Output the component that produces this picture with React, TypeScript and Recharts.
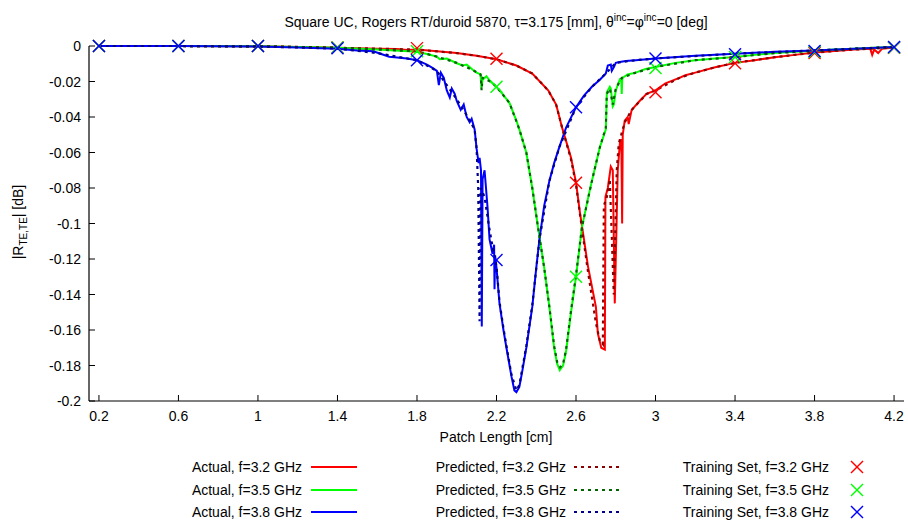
import React from 'react';
import { ComposedChart, Line, Scatter, XAxis, YAxis } from 'recharts';

const FONT = "'Liberation Sans', Arial, Helvetica, sans-serif";

// ---- axis ticks ----
const xTicks = [0.2, 0.6, 1, 1.4, 1.8, 2.2, 2.6, 3, 3.4, 3.8, 4.2];
const yTicks = [0, -0.02, -0.04, -0.06, -0.08, -0.1, -0.12, -0.14, -0.16, -0.18, -0.2];
const xDomain = [0.15, 4.25];
const yDomain = [-0.2, 0];

// ---- series names / colours ----
const freqs = ['3.2', '3.5', '3.8'];
const actualColors = ['#ff0000', '#00ff00', '#0000ff'];
const predictedColors = ['#8b0000', '#006400', '#00008b'];

// ---- Actual, f=3.2 GHz ----
const actual32 = [
  [0.2, 0], [0.6, 0], [1.0, -0.0002], [1.2, -0.0005], [1.4, -0.001], [1.6, -0.0015], [1.7, -0.0017],
  [1.75, -0.0022], [1.8, -0.002], [1.9, -0.003], [2.0, -0.004], [2.1, -0.0055], [2.2, -0.0075],
  [2.3, -0.011], [2.38, -0.0155], [2.46, -0.025], [2.5, -0.033], [2.53, -0.046], [2.575, -0.063],
  [2.6, -0.077], [2.62, -0.094], [2.64, -0.109], [2.66, -0.124], [2.7, -0.147], [2.71, -0.162],
  [2.727, -0.17], [2.745, -0.171], [2.748, -0.085], [2.76, -0.08], [2.775, -0.068], [2.785, -0.07],
  [2.795, -0.145], [2.8, -0.12], [2.81, -0.07], [2.822, -0.053], [2.828, -0.053], [2.832, -0.1],
  [2.835, -0.05], [2.845, -0.042], [2.86, -0.04], [2.865, -0.044], [2.88, -0.036], [2.92, -0.031],
  [2.955, -0.027], [3.0, -0.025], [3.05, -0.021], [3.12, -0.018], [3.15, -0.0165], [3.2, -0.015],
  [3.3, -0.012], [3.4, -0.0095], [3.5, -0.008], [3.6, -0.0063], [3.7, -0.005], [3.8, -0.0037],
  [3.9, -0.0028], [4.0, -0.002], [4.08, -0.0015], [4.09, -0.005], [4.1, -0.002], [4.12, -0.004],
  [4.14, -0.0015], [4.2, -0.0008],
];

// ---- Actual, f=3.5 GHz ----
const actual35 = [
  [0.2, 0], [0.6, 0], [1.0, -0.0002], [1.2, -0.0006], [1.4, -0.001], [1.6, -0.002], [1.8, -0.0032],
  [1.85, -0.0045], [1.9, -0.006], [1.915, -0.0075], [1.95, -0.007], [2.0, -0.0097], [2.03, -0.011],
  [2.05, -0.0105], [2.082, -0.0135], [2.1, -0.015], [2.12, -0.016], [2.124, -0.0235], [2.13, -0.019],
  [2.149, -0.017], [2.17, -0.02], [2.2, -0.023], [2.23, -0.027], [2.265, -0.032], [2.3, -0.042],
  [2.315, -0.047], [2.35, -0.06], [2.38, -0.08], [2.41, -0.103], [2.44, -0.125], [2.466, -0.147],
  [2.49, -0.17], [2.505, -0.179], [2.518, -0.1826], [2.535, -0.18], [2.55, -0.172], [2.575, -0.15],
  [2.6, -0.13], [2.63, -0.102], [2.66, -0.086], [2.68, -0.076], [2.72, -0.057], [2.75, -0.047],
  [2.755, -0.026], [2.77, -0.023], [2.775, -0.024], [2.785, -0.034], [2.79, -0.033], [2.8, -0.025],
  [2.82, -0.019], [2.828, -0.02], [2.83, -0.027], [2.833, -0.018], [2.86, -0.016], [2.9, -0.015],
  [2.95, -0.013], [3.0, -0.0118], [3.1, -0.0095], [3.2, -0.008], [3.3, -0.007], [3.4, -0.0062],
  [3.5, -0.005], [3.6, -0.004], [3.7, -0.0033], [3.8, -0.0027], [3.9, -0.002], [4.0, -0.0015],
  [4.1, -0.001], [4.2, -0.0006],
];

// ---- Actual, f=3.8 GHz ----
const actual38 = [
  [0.2, 0], [0.6, 0], [1.0, -0.0003], [1.2, -0.0008], [1.4, -0.0015], [1.5, -0.0025], [1.58, -0.003],
  [1.62, -0.0045], [1.66, -0.006], [1.7, -0.0065], [1.75, -0.007], [1.8, -0.008], [1.85, -0.0105],
  [1.88, -0.0125], [1.9, -0.014], [1.91, -0.022], [1.92, -0.015], [1.935, -0.018], [1.95, -0.025],
  [1.965, -0.029], [1.975, -0.024], [1.99, -0.027], [2.0, -0.031], [2.02, -0.036], [2.035, -0.033],
  [2.05, -0.04], [2.065, -0.043], [2.075, -0.041], [2.09, -0.047], [2.1, -0.058], [2.11, -0.066],
  [2.115, -0.063], [2.122, -0.07], [2.126, -0.158], [2.13, -0.075], [2.14, -0.07], [2.155, -0.091],
  [2.165, -0.109], [2.18, -0.117], [2.188, -0.112], [2.19, -0.137], [2.193, -0.118], [2.2, -0.125],
  [2.215, -0.145], [2.235, -0.16], [2.25, -0.17], [2.275, -0.186], [2.29, -0.194], [2.3, -0.195],
  [2.315, -0.192], [2.33, -0.183], [2.35, -0.17], [2.38, -0.147], [2.4, -0.125], [2.416, -0.109],
  [2.44, -0.09], [2.466, -0.076], [2.49, -0.066], [2.516, -0.057], [2.55, -0.046], [2.6, -0.0345],
  [2.64, -0.028], [2.68, -0.023], [2.72, -0.019], [2.75, -0.0155], [2.76, -0.011], [2.775, -0.0105],
  [2.78, -0.014], [2.79, -0.012], [2.8, -0.0095], [2.82, -0.009], [2.85, -0.0085], [2.9, -0.008],
  [3.0, -0.007], [3.2, -0.0055], [3.4, -0.0043], [3.6, -0.0033], [3.8, -0.0025], [4.0, -0.0015],
  [4.2, -0.0006],
];

// ---- Predicted ----
const predicted32 = [
  [0.2, 0], [0.6, 0], [1.0, -0.0002], [1.2, -0.0005], [1.4, -0.001], [1.6, -0.0015], [1.8, -0.002],
  [2.0, -0.004], [2.1, -0.0055], [2.2, -0.0075], [2.3, -0.011], [2.38, -0.0155], [2.46, -0.025],
  [2.5, -0.033], [2.53, -0.046], [2.575, -0.064], [2.6, -0.078], [2.62, -0.095], [2.66, -0.127],
  [2.7, -0.156], [2.72, -0.166], [2.735, -0.168], [2.74, -0.09], [2.755, -0.085], [2.77, -0.075],
  [2.79, -0.14], [2.805, -0.07], [2.815, -0.055], [2.845, -0.043], [2.88, -0.036], [2.955, -0.027],
  [3.0, -0.025], [3.12, -0.018], [3.2, -0.015], [3.3, -0.012], [3.4, -0.0095], [3.6, -0.0063],
  [3.8, -0.0037], [4.0, -0.002], [4.2, -0.0008],
];
const predicted35 = [
  [0.2, 0], [0.6, 0], [1.0, -0.0002], [1.2, -0.0006], [1.4, -0.001], [1.6, -0.002], [1.8, -0.003],
  [1.9, -0.006], [2.0, -0.0095], [2.08, -0.0135], [2.12, -0.016], [2.125, -0.025], [2.13, -0.018],
  [2.17, -0.02], [2.2, -0.023], [2.265, -0.032], [2.315, -0.047], [2.35, -0.06], [2.38, -0.08],
  [2.41, -0.103], [2.44, -0.125], [2.466, -0.147], [2.49, -0.169], [2.505, -0.178], [2.52, -0.181],
  [2.535, -0.179], [2.55, -0.171], [2.575, -0.149], [2.6, -0.129], [2.63, -0.102], [2.68, -0.076],
  [2.72, -0.057], [2.75, -0.046], [2.755, -0.027], [2.77, -0.024], [2.785, -0.033], [2.8, -0.024],
  [2.83, -0.018], [2.9, -0.015], [3.0, -0.0118], [3.2, -0.008], [3.4, -0.0062], [3.6, -0.004],
  [3.8, -0.0027], [4.0, -0.0015], [4.2, -0.0006],
];
const predicted38 = [
  [0.2, 0], [0.6, 0], [1.0, -0.0003], [1.2, -0.0008], [1.4, -0.0015], [1.6, -0.004], [1.8, -0.008],
  [1.9, -0.014], [1.95, -0.022], [2.0, -0.03], [2.05, -0.039], [2.09, -0.047], [2.1, -0.058],
  [2.108, -0.08], [2.115, -0.155], [2.12, -0.08], [2.14, -0.085], [2.16, -0.1], [2.175, -0.11],
  [2.2, -0.124], [2.215, -0.144], [2.235, -0.159], [2.25, -0.169], [2.275, -0.185], [2.3, -0.194],
  [2.315, -0.191], [2.35, -0.169], [2.38, -0.146], [2.416, -0.109], [2.466, -0.076], [2.516, -0.057],
  [2.6, -0.0345], [2.68, -0.023], [2.75, -0.0155], [2.8, -0.0095], [2.9, -0.008], [3.0, -0.007],
  [3.4, -0.0043], [3.8, -0.0025], [4.2, -0.0006],
];

// ---- Training Set ----
const trainingX = [0.2, 0.6, 1.0, 1.4, 1.8, 2.2, 2.6, 3.0, 3.4, 3.8, 4.2];
const training32 = [0, 0, 0, -0.0008, -0.0012, -0.0072, -0.077, -0.026, -0.0097, -0.004, -0.001];
const training35 = [0, 0, 0, -0.0008, -0.003, -0.023, -0.13, -0.0124, -0.0062, -0.0033, -0.0008];
const training38 = [0, 0, 0, -0.0013, -0.008, -0.1206, -0.0345, -0.007, -0.0047, -0.0028, -0.0006];

const toPts = (arr: number[][]) => arr.map(([x, y]) => ({ x, y }));
const toTrain = (ys: number[]) => ys.map((y, i) => ({ x: trainingX[i], y }));

const actualSeries = [actual32, actual35, actual38].map(toPts);
const predictedSeries = [predicted32, predicted35, predicted38].map(toPts);
const trainingSeries = [training32, training35, training38].map(toTrain);

const fmt = (v: number) => String(Number(v.toFixed(2)));

const TICK_LEN = 6;

const BottomTick = (p: any) => (
  <g>
    <line x1={p.x} y1={p.y} x2={p.x} y2={p.y - TICK_LEN} stroke="#000" strokeWidth={1} />
    <text x={p.x} y={p.y + 20} textAnchor="middle" fontSize={14} fontFamily={FONT} fill="#000">
      {fmt(p.payload.value)}
    </text>
  </g>
);
const TopTick = (p: any) => (
  <line x1={p.x} y1={p.y} x2={p.x} y2={p.y + TICK_LEN} stroke="#000" strokeWidth={1} />
);
const LeftTick = (p: any) => (
  <g>
    <line x1={p.x} y1={p.y} x2={p.x + TICK_LEN} y2={p.y} stroke="#000" strokeWidth={1} />
    <text x={p.x - 8} y={p.y + 5} textAnchor="end" fontSize={14} fontFamily={FONT} fill="#000">
      {fmt(p.payload.value)}
    </text>
  </g>
);
const RightTick = (p: any) => (
  <line x1={p.x} y1={p.y} x2={p.x - TICK_LEN} y2={p.y} stroke="#000" strokeWidth={1} />
);

const makeCross = (color: string) => (p: any) => {
  const s = 6;
  const { cx, cy } = p;
  if (cx == null || cy == null) return <g />;
  return (
    <g>
      <line x1={cx - s} y1={cy - s} x2={cx + s} y2={cy + s} stroke={color} strokeWidth={1.4} />
      <line x1={cx - s} y1={cy + s} x2={cx + s} y2={cy - s} stroke={color} strokeWidth={1.4} />
    </g>
  );
};

const DASH = '3 4';

const Overlay = () => {
  const rowsY = [472, 495, 517];
  return (
    <svg
      width={908}
      height={525}
      style={{ position: 'absolute', left: 0, top: 0, pointerEvents: 'none' }}
      fontFamily={FONT}
      fontSize={14}
    >
      <text x={496} y={27} textAnchor="middle" fill="#000">
        Square UC, Rogers RT/duroid 5870, τ=3.175 [mm], θ
        <tspan fontSize={10} dy={-6}>inc</tspan>
        <tspan dy={6}>=φ</tspan>
        <tspan fontSize={10} dy={-6}>inc</tspan>
        <tspan dy={6}>=0 [deg]</tspan>
      </text>
      <text x={496} y={442} textAnchor="middle" fill="#000">Patch Length [cm]</text>
      <text transform="translate(23,222) rotate(-90)" textAnchor="middle" fill="#000">
        |R<tspan fontSize={10} dy={4}>TE,TE</tspan>
        <tspan dy={-4}>| [dB]</tspan>
      </text>
      {freqs.map((f, i) => (
        <g key={f}>
          <text x={302} y={rowsY[i]} textAnchor="end" fill="#000">{`Actual, f=${f} GHz`}</text>
          <line x1={311} y1={rowsY[i] - 5} x2={357} y2={rowsY[i] - 5} stroke={actualColors[i]} strokeWidth={2} />
          <text x={566} y={rowsY[i]} textAnchor="end" fill="#000">{`Predicted, f=${f} GHz`}</text>
          <line x1={574} y1={rowsY[i] - 5} x2={620} y2={rowsY[i] - 5} stroke={predictedColors[i]} strokeWidth={2} strokeDasharray={DASH} />
          <text x={829} y={rowsY[i]} textAnchor="end" fill="#000">{`Training Set, f=${f} GHz`}</text>
          <line x1={851} y1={rowsY[i] - 11} x2={863} y2={rowsY[i] + 1} stroke={actualColors[i]} strokeWidth={1.4} />
          <line x1={851} y1={rowsY[i] + 1} x2={863} y2={rowsY[i] - 11} stroke={actualColors[i]} strokeWidth={1.4} />
        </g>
      ))}
    </svg>
  );
};

export default function App() {
  return (
    <div style={{ position: 'absolute', left: 0, top: 0, width: 908, height: 525, background: '#fff' }}>
      <ComposedChart width={908} height={525} margin={{ top: 46, right: 4, bottom: 94, left: 0 }}>
        <XAxis
          type="number"
          dataKey="x"
          domain={xDomain}
          ticks={xTicks}
          interval={0}
          height={30}
          tickSize={0}
          tickMargin={0}
          tick={BottomTick}
          axisLine={{ stroke: '#000', strokeWidth: 1.2 }}
        />
        <XAxis
          xAxisId="top"
          orientation="top"
          type="number"
          dataKey="x"
          domain={xDomain}
          ticks={xTicks}
          interval={0}
          height={0}
          tickSize={0}
          tickMargin={0}
          tick={TopTick}
          axisLine={{ stroke: '#000', strokeWidth: 1.2 }}
        />
        <YAxis
          type="number"
          dataKey="y"
          domain={yDomain}
          ticks={yTicks}
          interval={0}
          width={89}
          tickSize={0}
          tickMargin={0}
          tick={LeftTick}
          axisLine={{ stroke: '#000', strokeWidth: 1.2 }}
        />
        <YAxis
          yAxisId="right"
          orientation="right"
          type="number"
          dataKey="y"
          domain={yDomain}
          ticks={yTicks}
          interval={0}
          width={0}
          tickSize={0}
          tickMargin={0}
          tick={RightTick}
          axisLine={{ stroke: '#000', strokeWidth: 1.2 }}
        />
        {actualSeries.map((d, i) => (
          <Line
            key={`a${i}`}
            data={d}
            dataKey="y"
            type="linear"
            stroke={actualColors[i]}
            strokeWidth={2}
            dot={false}
            activeDot={false}
            isAnimationActive={false}
          />
        ))}
        {predictedSeries.map((d, i) => (
          <Line
            key={`p${i}`}
            data={d}
            dataKey="y"
            type="linear"
            stroke={predictedColors[i]}
            strokeWidth={2.2}
            strokeDasharray={DASH}
            dot={false}
            activeDot={false}
            isAnimationActive={false}
          />
        ))}
        {trainingSeries.map((d, i) => (
          <Scatter
            key={`t${i}`}
            data={d}
            dataKey="y"
            shape={makeCross(actualColors[i])}
            isAnimationActive={false}
          />
        ))}
      </ComposedChart>
      <Overlay />
    </div>
  );
}
